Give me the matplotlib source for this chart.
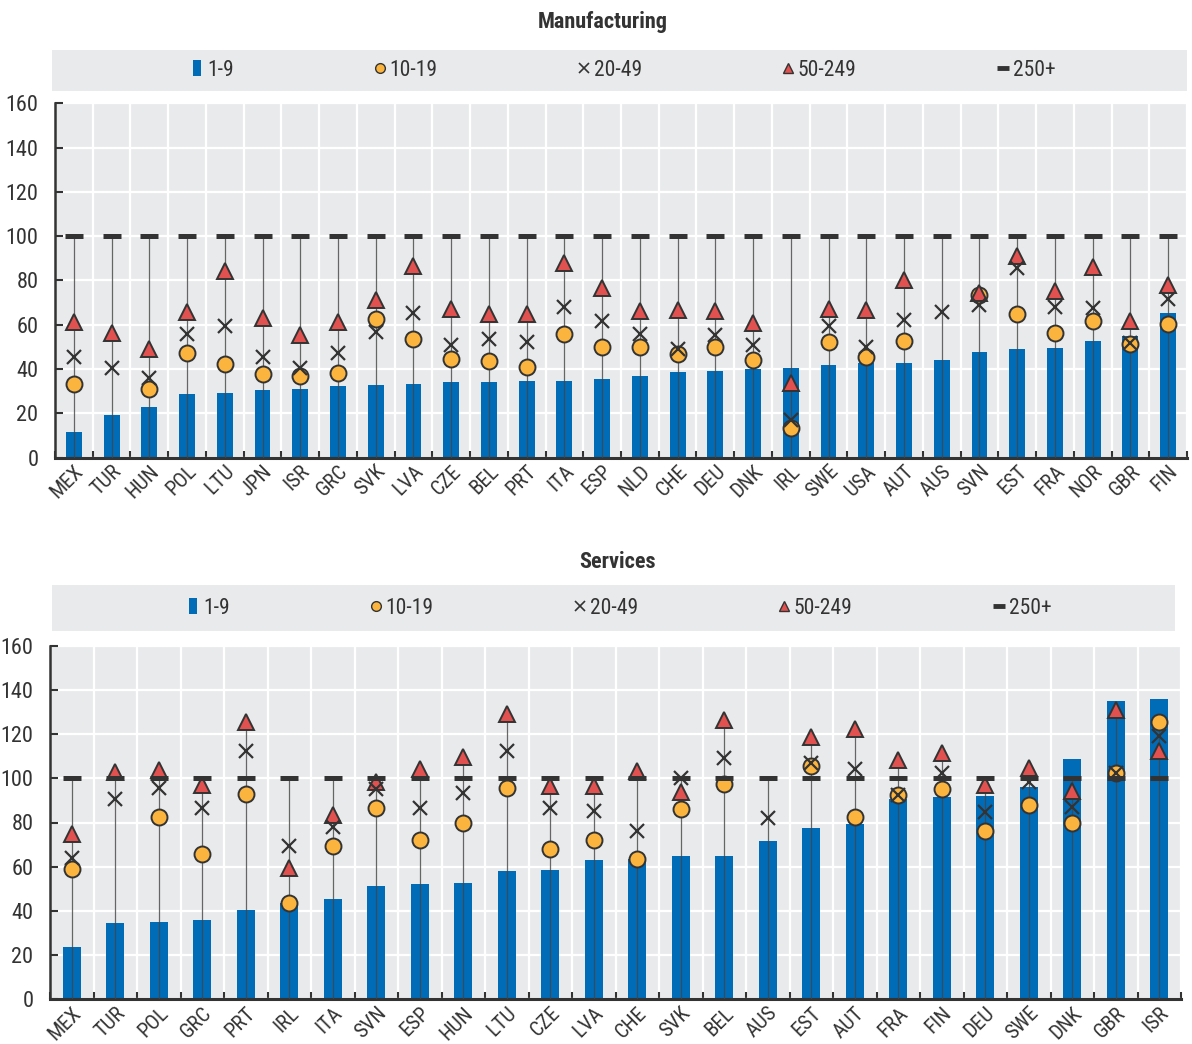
import numpy as np
import matplotlib
matplotlib.use('Agg')
import matplotlib.pyplot as plt
from matplotlib.lines import Line2D
from matplotlib.patches import Rectangle
from matplotlib import font_manager

_avail = {f.name for f in font_manager.fontManager.ttflist}
_fams = [f for f in ['Roboto Condensed', 'Open Sans Condensed', 'Liberation Sans Narrow',
                     'Liberation Sans'] if f in _avail]
plt.rcParams['font.family'] = _fams + ['DejaVu Sans']
NARROW = _fams[0] != 'Liberation Sans' if _fams else False

nan = np.nan

# ---------------- Manufacturing ----------------
man_countries = ["MEX", "TUR", "HUN", "POL", "LTU", "JPN", "ISR", "GRC", "SVK", "LVA",
                 "CZE", "BEL", "PRT", "ITA", "ESP", "NLD", "CHE", "DEU", "DNK", "IRL",
                 "SWE", "USA", "AUT", "AUS", "SVN", "EST", "FRA", "NOR", "GBR", "FIN"]
man_1_9 = [11.4, 19.3, 22.9, 28.7, 29.0, 30.6, 31.0, 32.2, 32.7, 33.1,
           33.9, 33.9, 34.6, 34.6, 35.4, 36.6, 38.7, 39.1, 40.2, 40.6,
           41.7, 42.6, 42.6, 44.1, 47.6, 49.1, 49.4, 52.7, 55.1, 65.2]
man_10_19 = [33.3, nan, 30.9, 47.1, 42.3, 37.8, 36.9, 38.1, 62.5, 53.4,
             44.7, 43.6, 40.8, 56.0, 50.1, 49.7, 46.7, 50.0, 44.1, 13.2,
             52.1, 45.2, 52.8, nan, 73.4, 64.9, 56.1, 61.7, 51.3, 60.2]
man_20_49 = [45.2, 40.3, 35.8, 56.0, 59.5, 45.2, 40.6, 47.4, 56.9, 65.2,
             50.7, 53.4, 52.1, 68.2, 61.7, 56.0, 48.9, 55.4, 50.9, 17.0,
             59.5, 49.8, 62.2, 65.5, 68.9, 85.8, 68.2, 67.4, 51.6, 71.6]
man_50_249 = [61.3, 56.4, 49.1, 65.5, 84.1, 63.1, 55.4, 61.1, 71.2, 86.4,
              67.3, 64.7, 65.0, 87.9, 76.5, 66.1, 66.8, 66.1, 60.7, 33.6,
              67.3, 66.5, 80.1, nan, 74.2, 91.2, 75.3, 86.1, 61.7, 78.0]
man_250 = [100, 100, 100, 100, 100, 100, 100, 100, 100, 100,
           100, 100, 100, 100, 100, 100, 100, 100, 100, 100,
           100, 100, 100, 100, 100, 100, 100, 100, 100, 100]

# ---------------- Services ----------------
ser_countries = ["MEX", "TUR", "POL", "GRC", "PRT", "IRL", "ITA", "SVN", "ESP", "HUN",
                 "LTU", "CZE", "LVA", "CHE", "SVK", "BEL", "AUS", "EST", "AUT", "FRA",
                 "FIN", "DEU", "SWE", "DNK", "GBR", "ISR"]
ser_1_9 = [23.8, 34.4, 34.8, 35.7, 40.4, 43.4, 45.2, 51.4, 52.2, 52.5,
           58.1, 58.5, 63.0, 63.3, 64.8, 65.0, 71.8, 77.7, 79.3, 90.5,
           91.7, 92.1, 96.2, 108.6, 135.0, 135.7]
ser_10_19 = [59.0, nan, 82.6, 65.6, 92.7, 43.4, 69.5, 86.4, 72.1, 79.6,
             95.8, 68.0, 72.1, 63.3, 86.1, 97.4, nan, 105.6, 82.6, 92.4,
             95.0, 76.2, 87.8, 79.6, 102.2, 125.6]
ser_20_49 = [63.8, 90.5, 95.5, 86.4, 112.5, 69.4, 78.1, 95.0, 86.4, 93.2,
             112.5, 86.4, 85.2, 76.3, 100.0, 109.0, 82.2, 106.8, 104.1, 92.4,
             102.2, 84.9, 98.5, 87.2, 102.2, 119.1]
ser_50_249 = [74.6, 102.7, 103.9, 97.0, 125.5, 59.6, 83.4, 98.3, 104.4, 109.6,
              129.2, 96.7, 96.7, 103.3, 94.0, 126.5, nan, 118.8, 122.2, 108.3,
              111.6, 97.0, 104.8, 94.3, 130.7, 112.5]
ser_250 = [100, 100, 100, 100, 100, 100, 100, 100, 100, 100,
           100, 100, 100, 100, 100, 100, 100, 100, 100, 100,
           100, 100, 100, 100, 100, 100]

series_labels = ["1-9", "10-19", "20-49", "50-249", "250+"]

BLUE = '#006bb6'
ORANGE = '#fbb43e'
RED = '#e0514f'
DARK = '#333333'
BG = '#e9eaec'
TXT = '#333333'

TICK_FS = 15 if NARROW else 13.5
Y_FS = 16 if NARROW else 14
LEG_FS = 15.5 if NARROW else 14


def draw(ax, cats, v1, v2, v3, v4, v5):
    n = len(cats)
    x = np.arange(n)
    v2 = np.array(v2, float); v3 = np.array(v3, float)
    v4 = np.array(v4, float); v5 = np.array(v5, float)
    ax.set_facecolor(BG)
    ax.set_axisbelow(True)
    ax.bar(x, v1, width=0.42, color=BLUE, zorder=2)
    top = np.nanmax(np.vstack([v2, v3, v4, v5]), axis=0)
    ax.vlines(x, 0, top, color='#444444', lw=0.9, alpha=0.8, zorder=3)
    ax.plot(x, v2, ls='none', marker='o', ms=11.5, mfc=ORANGE, mec=DARK, mew=1.4, zorder=4)
    ax.plot(x, v4, ls='none', marker='^', ms=11.5, mfc=RED, mec=DARK, mew=1.4, zorder=5)
    ax.plot(x, v5, ls='none', marker='_', ms=12.5, mew=3.6, color=DARK, zorder=6)
    ax.plot(x, v3, ls='none', marker='x', ms=10, mew=1.6, color=DARK, zorder=7)
    ax.set_xlim(-0.5, n - 0.5)
    ax.set_ylim(0, 160)
    ax.set_yticks(np.arange(0, 161, 20))
    ax.set_xticks(x)
    ax.set_xticklabels(cats, rotation=45, ha='right', va='top', rotation_mode='anchor')
    ax.set_xticks(np.arange(-0.5, n, 1.0), minor=True)
    ax.tick_params(axis='x', which='major', length=0, pad=3, labelsize=TICK_FS, labelcolor=TXT)
    ax.tick_params(axis='x', which='minor', direction='in', length=5, width=1.5, color=DARK)
    ax.tick_params(axis='y', direction='in', length=6, width=1.5, color=DARK,
                   labelsize=Y_FS, labelcolor=TXT, pad=12)
    ax.grid(axis='y', color='white', lw=1.6)
    ax.grid(axis='x', which='minor', color='white', lw=1.6)
    for s in ['top', 'right']:
        ax.spines[s].set_visible(False)
    ax.spines['left'].set_color(DARK)
    ax.spines['left'].set_linewidth(1.8)
    ax.spines['bottom'].set_color(DARK)
    ax.spines['bottom'].set_linewidth(2.2)


def legend_handles():
    bar_marker = [(-0.5, -1), (0.5, -1), (0.5, 1), (-0.5, 1), (-0.5, -1)]
    return [
        Line2D([], [], ls='none', marker=bar_marker, ms=11, mfc=BLUE, mec=BLUE, mew=0),
        Line2D([], [], ls='none', marker='o', ms=7, mfc=ORANGE, mec=DARK, mew=1.0),
        Line2D([], [], ls='none', marker='x', ms=6.5, mew=1.2, color=DARK),
        Line2D([], [], ls='none', marker='^', ms=7.5, mfc=RED, mec=DARK, mew=1.0),
        Line2D([], [], ls='none', marker='_', ms=8, mew=3.5, color=DARK),
    ]


W, H = 1192, 1044
fig = plt.figure(figsize=(W / 100, H / 100), dpi=100)


def fx(px):
    return px / W


def fy(py):
    return 1 - py / H


ax1 = fig.add_axes([fx(55), fy(457.5), fx(1187) - fx(55), fy(103.3) - fy(457.5)])
ax2 = fig.add_axes([fx(50), fy(999.3), fx(1181) - fx(50), fy(645.7) - fy(999.3)])

draw(ax1, man_countries, man_1_9, man_10_19, man_20_49, man_50_249, man_250)
draw(ax2, ser_countries, ser_1_9, ser_10_19, ser_20_49, ser_50_249, ser_250)

# titles
TITLE_FS = 16 if NARROW else 14.5
fig.text(fx(603), fy(22), "Manufacturing", ha='center', va='center',
         fontsize=TITLE_FS, fontweight='bold', color=TXT)
fig.text(fx(617), fy(562), "Services", ha='center', va='center',
         fontsize=TITLE_FS, fontweight='bold', color=TXT)

# legend boxes
fig.patches.append(Rectangle((fx(52), fy(91)), fx(1187) - fx(52), fy(50) - fy(91),
                             transform=fig.transFigure, facecolor=BG, edgecolor='none', zorder=0))
fig.patches.append(Rectangle((fx(52), fy(631)), fx(1175) - fx(52), fy(585) - fy(631),
                             transform=fig.transFigure, facecolor=BG, edgecolor='none', zorder=0))

for cx, cy in [(623, 70.5), (619, 608)]:
    fig.legend(legend_handles(), series_labels, loc='center',
               bbox_to_anchor=(fx(cx), fy(cy)), bbox_transform=fig.transFigure,
               ncol=5, frameon=False, fontsize=LEG_FS, handlelength=0.6,
               handletextpad=0.15, columnspacing=(6.5 if NARROW else 7.2), labelcolor=TXT)

fig.savefig('out.png', dpi=100)
